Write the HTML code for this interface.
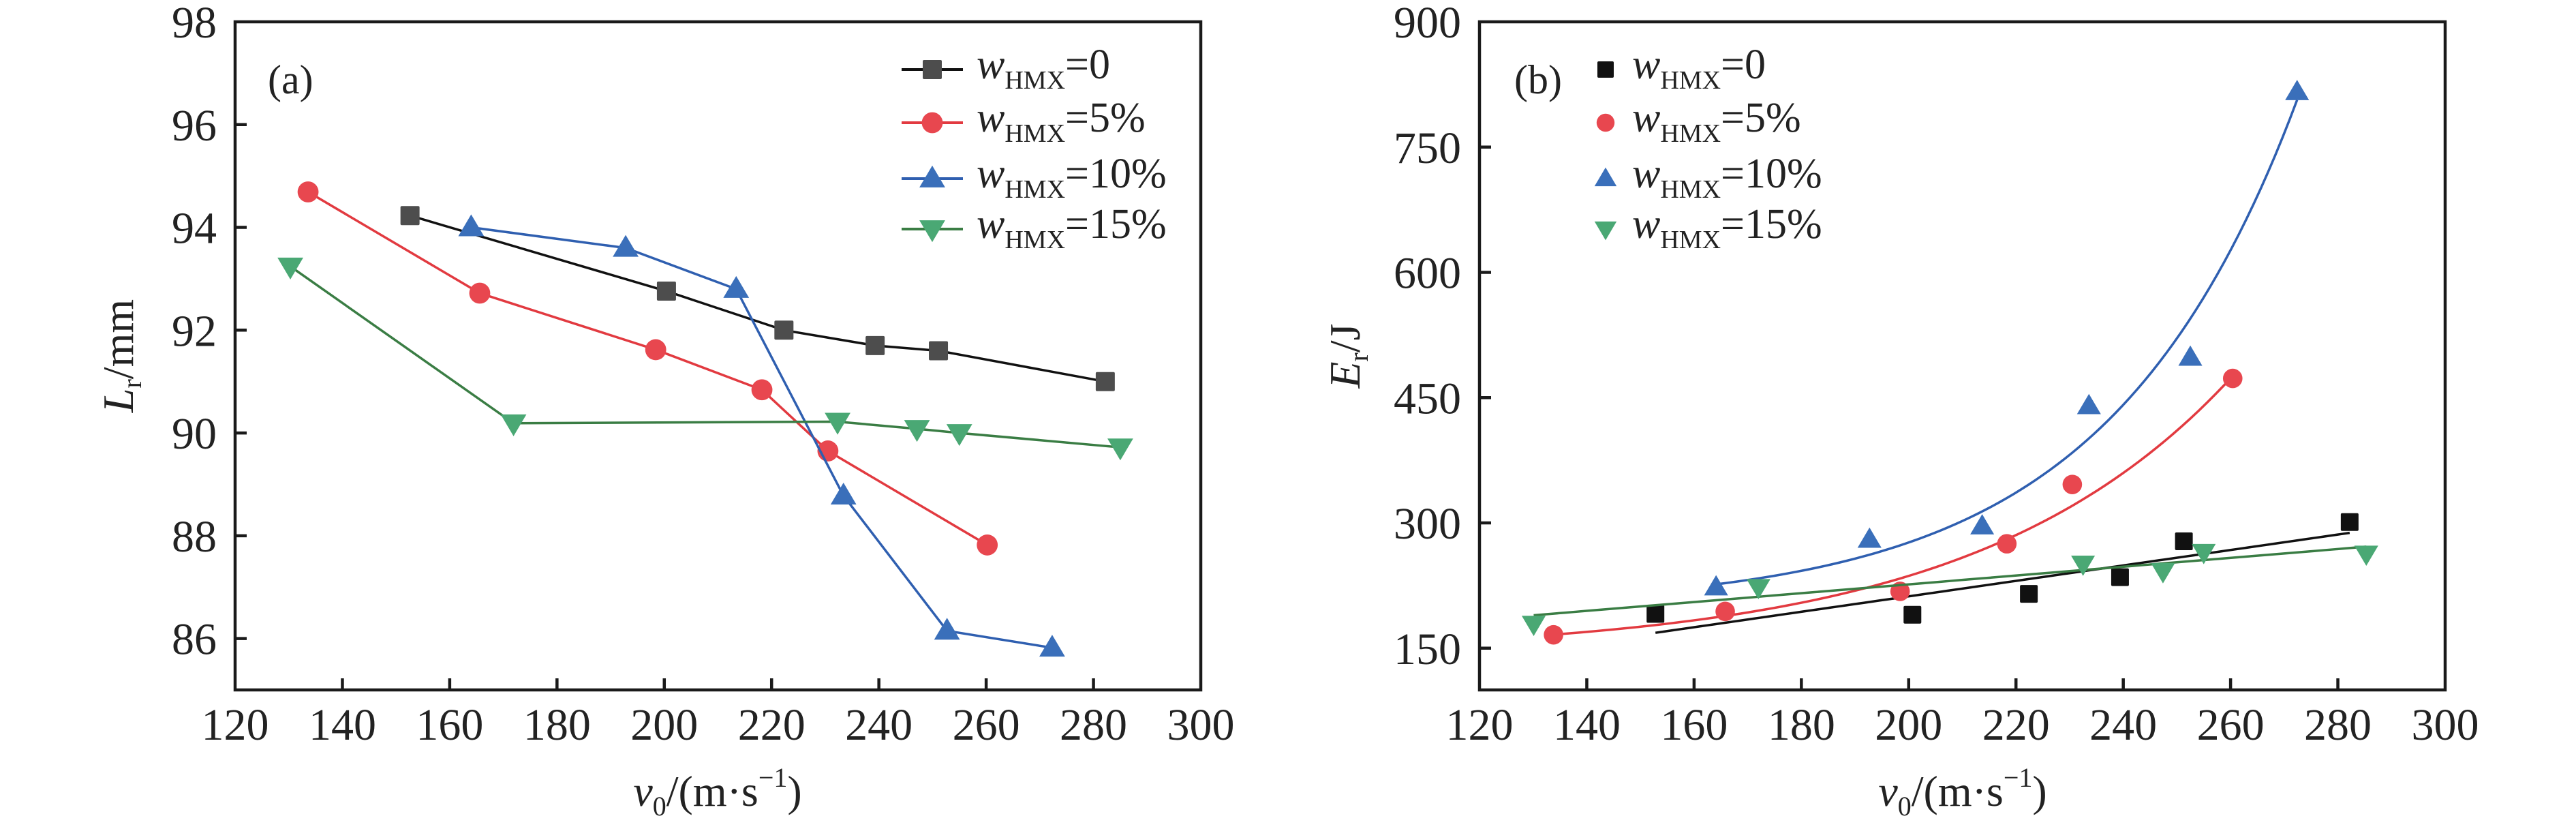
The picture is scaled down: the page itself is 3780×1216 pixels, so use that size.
<!DOCTYPE html>
<html><head><meta charset="utf-8"><style>
html,body{margin:0;padding:0;background:#fff;}
svg{display:block;font-family:"Liberation Serif",serif;}
</style></head><body>
<svg id="chart" width="3780" height="1216" viewBox="0 0 3780 1216" xmlns="http://www.w3.org/2000/svg"></svg>
<script>
// ---- data ----
const xTicks = [120,140,160,180,200,220,240,260,280,300];
const yTicksA = [86,88,90,92,94,96,98];
const yTicksB = [150,300,450,600,750,900];
const seriesLabels = ["0","5%","10%","15%"];
// Panel (a): L_r vs v0
const aX0 = [152.6,200.4,222.3,239.3,251.1,282.2];
const aY0 = [94.23,92.76,92.0,91.7,91.6,91.0];
const aX5 = [133.6,165.6,198.4,218.2,230.5,260.2];
const aY5 = [94.69,92.72,91.62,90.84,89.65,87.82];
const aX10 = [164.0,192.8,213.4,233.4,252.7,272.3];
const aY10 = [94.0,93.6,92.8,88.78,86.15,85.82];
const aX15 = [130.3,171.9,232.3,247.1,255.0,285.0];
const aY15 = [93.24,90.19,90.22,90.08,90.0,89.72];
// Panel (b): E_r vs v0
const bX0 = [152.8,200.7,222.4,239.4,251.3,282.2];
const bY0 = [191,190,215,235,278,301];
const bX5 = [133.8,165.8,198.4,218.3,230.5,260.4];
const bY5 = [166,194,218,275,346,473];
const bX10 = [164.1,192.7,213.7,233.6,252.5,272.4];
const bY10 = [223,280,296,440,498,816];
const bX15 = [130.1,172.0,232.5,247.4,255.0,285.3];
const bY15 = [179,223,251,242,265,263];

const NS="http://www.w3.org/2000/svg";
const svg=document.getElementById('chart');
function mk(tag,attrs,parent){const e=document.createElementNS(NS,tag);for(const k in attrs)e.setAttribute(k,attrs[k]);(parent||svg).appendChild(e);return e;}

const COLORS=[{line:"#111",fill:"#4d4d4d"},{line:"#e23a40",fill:"#e8474f"},{line:"#2f5fb0",fill:"#3a6fba"},{line:"#3a7d44",fill:"#4aa874"}];
const SHAPES=["square","circle","up","down"];

function marker(g,shape,cx,cy,fill,s){
  let e;
  if(shape==="square"){e=mk('rect',{x:cx-s/2,y:cy-s/2,width:s,height:s,rx:2,fill:fill},g);}
  else if(shape==="circle"){e=mk('circle',{cx:cx,cy:cy,r:s*0.55,fill:fill},g);}
  else if(shape==="up"){const h=s*1.1,w=s*1.35;e=mk('polygon',{points:`${cx},${cy-h*0.62} ${cx-w/2},${cy+h*0.42} ${cx+w/2},${cy+h*0.42}`,fill:fill,'stroke-linejoin':'round'},g);}
  else {const h=s*1.1,w=s*1.35;e=mk('polygon',{points:`${cx},${cy+h*0.62} ${cx-w/2},${cy-h*0.42} ${cx+w/2},${cy-h*0.42}`,fill:fill},g);}
  return e;
}

function axes(L,R,T,B,xmin,xmax,ymin,ymax,yTicks,name){
  const g=mk('g',{});
  
  
  const sx=v=>L+(v-xmin)/(xmax-xmin)*(R-L);
  const sy=v=>B-(v-ymin)/(ymax-ymin)*(B-T);
  mk('rect',{x:L,y:T,width:R-L,height:B-T,fill:'none',stroke:'#1a1a1a','stroke-width':4.5},g);
  xTicks.forEach(t=>{
    const x=sx(t);
    if(t>xmin&&t<xmax) mk('line',{x1:x,y1:B,x2:x,y2:B-17,stroke:'#1a1a1a','stroke-width':4.5},g);
    const tx=mk('text',{x:x,y:B+73,'text-anchor':'middle','font-size':66,fill:'#222'},g);
    tx.textContent=t;
    
    
  });
  yTicks.forEach(t=>{
    const y=sy(t);
    if(t<ymax) mk('line',{x1:L,y1:y,x2:L+17,y2:y,stroke:'#1a1a1a','stroke-width':4.5},g);
    const tx=mk('text',{x:L-27,y:y+23,'text-anchor':'end','font-size':66,fill:'#222'},g);
    tx.textContent=t;
    
    
  });
  return {sx,sy};
}

function legendText(g,x,y,label){
  const t=mk('text',{x:x,y:y+13,'font-size':62,fill:'#222'},g);
  const w=mk('tspan',{'font-style':'italic'},t);w.textContent='w';
  const s=mk('tspan',{'font-size':38,dy:15},t);s.textContent='HMX';
  const v=mk('tspan',{dy:-15},t);v.textContent='='+label;
  return t;
}

// ---------- Panel A ----------
const A=axes(345,1762,32,1012,120,300,85,98,yTicksA,'panel-a');
const aXs=[aX0,aX5,aX10,aX15], aYs=[aY0,aY5,aY10,aY15];
for(let i=0;i<4;i++){
  const g=mk('g',{});
  
  
  const pts=aXs[i].map((x,j)=>A.sx(x)+','+A.sy(aYs[i][j])).join(' ');
  mk('polyline',{points:pts,fill:'none',stroke:COLORS[i].line,'stroke-width':3.5},g);
  aXs[i].forEach((x,j)=>{
    const m=marker(g,SHAPES[i],A.sx(x),A.sy(aYs[i][j]),COLORS[i].fill,28);
    
    
  });
}
{
  const t=mk('text',{x:393,y:137,'font-size':60,fill:'#222'});t.textContent='(a)';
  
  const lg=mk('g',{});
  
  
  const rows=[102,180,262,336];
  for(let i=0;i<4;i++){
    const y=rows[i];
    const e=mk('g',{},lg);
    
    
    mk('line',{x1:1323,y1:y,x2:1413,y2:y,stroke:COLORS[i].line,'stroke-width':4},e);
    marker(e,SHAPES[i],1368,y,COLORS[i].fill,28);
    legendText(e,1433,y,seriesLabels[i]);
  }
  const yl=mk('text',{x:0,y:0,transform:'translate(195,522) rotate(-90)','text-anchor':'middle','font-size':64,fill:'#222'});
  
  const a1=mk('tspan',{'font-style':'italic'},yl);a1.textContent='L';
  const a2=mk('tspan',{'font-size':40,dy:12},yl);a2.textContent='r';
  const a3=mk('tspan',{dy:-12},yl);a3.textContent='/mm';
  const xl=mk('text',{x:1053,y:1182,'text-anchor':'middle','font-size':64,fill:'#222'});
  
  const b1=mk('tspan',{'font-style':'italic'},xl);b1.textContent='v';
  const b2=mk('tspan',{'font-size':40,dy:14},xl);b2.textContent='0';
  const b3=mk('tspan',{dy:-14},xl);b3.textContent='/(m·s';
  const b4=mk('tspan',{'font-size':40,dy:-28},xl);b4.textContent='−1';
  const b5=mk('tspan',{dy:28},xl);b5.textContent=')';
}

// ---------- Panel B ----------
const B=axes(2171,3588,32,1012,120,300,100,900,yTicksB,'panel-b');
const bXs=[bX0,bX5,bX10,bX15], bYs=[bY0,bY5,bY10,bY15];
function linFit(xs,ys){const n=xs.length;let mx=0,my=0;xs.forEach((x,i)=>{mx+=x;my+=ys[i];});mx/=n;my/=n;let sxy=0,sxx=0;xs.forEach((x,i)=>{sxy+=(x-mx)*(ys[i]-my);sxx+=(x-mx)*(x-mx);});const b=sxy/sxx;return {b,a:my-b*mx};}
function expFit(xs,ys){
  let best=null;const ymin=Math.min(...ys);
  for(let y0=0;y0<ymin-1;y0+=1){
    const lf=linFit(xs,ys.map(y=>Math.log(y-y0)));
    let sse=0;xs.forEach((x,i)=>{const p=y0+Math.exp(lf.a+lf.b*x);sse+=(p-ys[i])**2;});
    if(!best||sse<best.sse)best={sse,y0,a:lf.a,b:lf.b};
  }
  return x=>best.y0+Math.exp(best.a+best.b*x);
}
const fitTypes=["lin","exp","exp","lin"];
for(let i=0;i<4;i++){
  const g=mk('g',{});
  
  
  const xs=bXs[i],ys=bYs[i];
  let f;
  if(fitTypes[i]==="lin"){const l=linFit(xs,ys);f=x=>l.a+l.b*x;}else f=expFit(xs,ys);
  const x0=Math.min(...xs),x1=Math.max(...xs);const pts=[];
  for(let k=0;k<=80;k++){const x=x0+(x1-x0)*k/80;pts.push(B.sx(x)+','+B.sy(f(x)));}
  const fl=mk('polyline',{points:pts.join(' '),fill:'none',stroke:COLORS[i].line,'stroke-width':3.5},g);
  
  const fillc=i===0?"#111":COLORS[i].fill;
  xs.forEach((x,j)=>{
    const m=marker(g,SHAPES[i],B.sx(x),B.sy(ys[j]),fillc,26);
    
    
  });
}
{
  const t=mk('text',{x:2222,y:137,'font-size':60,fill:'#222'});t.textContent='(b)';
  
  const lg=mk('g',{});
  
  
  const rows=[102,180,262,336];
  for(let i=0;i<4;i++){
    const y=rows[i];
    const e=mk('g',{},lg);
    
    
    marker(e,SHAPES[i],2356,y,i===0?"#111":COLORS[i].fill,24);
    legendText(e,2395,y,seriesLabels[i]);
  }
  const yl=mk('text',{x:0,y:0,transform:'translate(1995,522) rotate(-90)','text-anchor':'middle','font-size':64,fill:'#222'});
  
  const a1=mk('tspan',{'font-style':'italic'},yl);a1.textContent='E';
  const a2=mk('tspan',{'font-size':40,dy:12},yl);a2.textContent='r';
  const a3=mk('tspan',{dy:-12},yl);a3.textContent='/J';
  const xl=mk('text',{x:2880,y:1182,'text-anchor':'middle','font-size':64,fill:'#222'});
  
  const b1=mk('tspan',{'font-style':'italic'},xl);b1.textContent='v';
  const b2=mk('tspan',{'font-size':40,dy:14},xl);b2.textContent='0';
  const b3=mk('tspan',{dy:-14},xl);b3.textContent='/(m·s';
  const b4=mk('tspan',{'font-size':40,dy:-28},xl);b4.textContent='−1';
  const b5=mk('tspan',{dy:28},xl);b5.textContent=')';
}
</script>
</body></html>
